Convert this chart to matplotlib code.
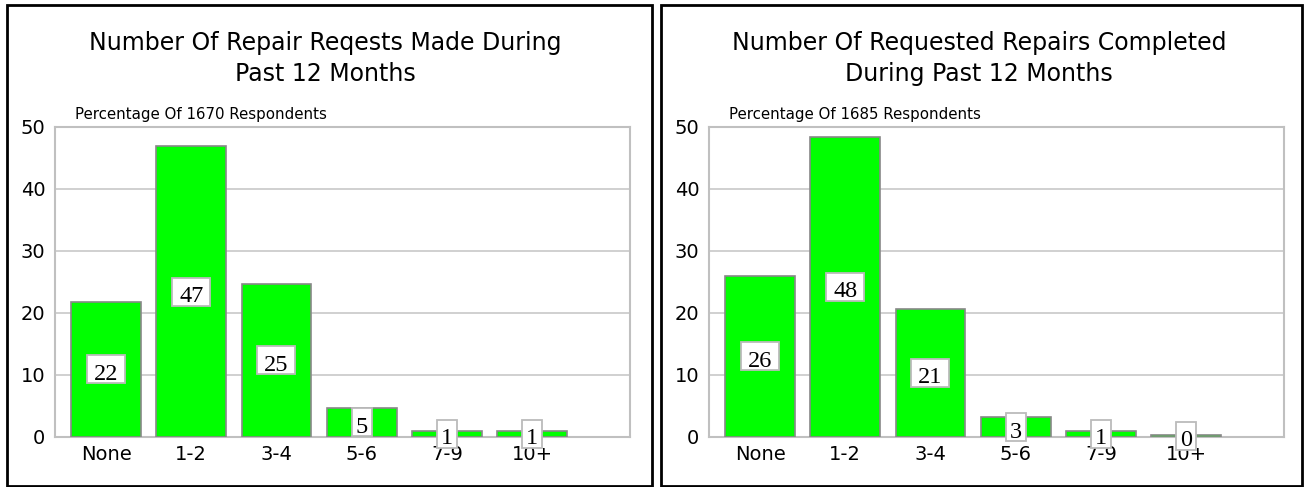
import matplotlib
matplotlib.use("Agg")
import matplotlib.pyplot as plt
from matplotlib.patches import Rectangle
from matplotlib.transforms import IdentityTransform, ScaledTranslation

categories = ["None", "1-2", "3-4", "5-6", "7-9", "10+"]

# percentages
requests_made = [21.8, 46.9, 24.7, 4.7, 1.0, 1.0]
repairs_completed = [26.0, 48.4, 20.7, 3.2, 1.0, 0.4]

titles = ["Number Of Repair Reqests Made During\nPast 12 Months",
          "Number Of Requested Repairs Completed\nDuring Past 12 Months"]
subtitles = ["Percentage Of 1670 Respondents", "Percentage Of 1685 Respondents"]
y_ticks = [0, 10, 20, 30, 40, 50]

W, H = 1305, 487
fig = plt.figure(figsize=(W / 100, H / 100), dpi=100)


def draw_panel(x0, width, values, title, subtitle):
    # outer black frame of the panel
    fig.add_artist(Rectangle((x0 / W, 1.5 / H), width / W, 480.5 / H, transform=fig.transFigure,
                             fill=False, edgecolor="black", linewidth=2))
    fig.text((x0 + 318) / W, 1 - 58.5 / H, title, ha="center", va="center",
             fontsize=17, linespacing=1.38)
    fig.text((x0 + 68) / W, 1 - 114 / H, subtitle, ha="left", va="center", fontsize=10.8)

    ax = fig.add_axes([(x0 + 48) / W, 50 / H, 575 / W, 310 / H])
    xs = list(range(len(categories)))
    ax.bar(xs, values, width=0.82, color="#00ff00", edgecolor="#888888", linewidth=1.2, zorder=3)
    for x, v in zip(xs, values):
        label = f"{v:.0f}"
        # white box (pixel sized) centred on the middle of the bar
        bw, bh = 18 * len(label) + 2, 28
        anchor = IdentityTransform() + ScaledTranslation(x, v / 2, ax.transData)
        ax.add_artist(Rectangle((-bw / 2, -bh / 2), bw, bh, transform=anchor,
                                facecolor="white", edgecolor="#bbbbbb", linewidth=1.3,
                                zorder=4, clip_on=False))
        ax.annotate(label, (x, v / 2), xytext=(0, -3.6), textcoords="offset points",
                    ha="center", va="center", fontsize=17.5, family="Liberation Serif",
                    color="black", zorder=5, annotation_clip=False)

    ax.set_xlim(-0.6, 6.15)
    ax.set_ylim(0, 50)
    ax.set_yticks(y_ticks)
    ax.set_xticks(xs)
    ax.set_xticklabels(categories)
    ax.tick_params(axis="both", length=0, labelsize=14)
    ax.tick_params(axis="y", pad=7)
    ax.tick_params(axis="x", pad=6)
    ax.grid(axis="y", color="#c8c8c8", linewidth=1.2, zorder=0)
    for s in ax.spines.values():
        s.set_color("#c0c0c0")
        s.set_linewidth(1.5)
    return ax


draw_panel(7, 645, requests_made, titles[0], subtitles[0])
draw_panel(661, 641, repairs_completed, titles[1], subtitles[1])

fig.savefig("out.png", dpi=100)
